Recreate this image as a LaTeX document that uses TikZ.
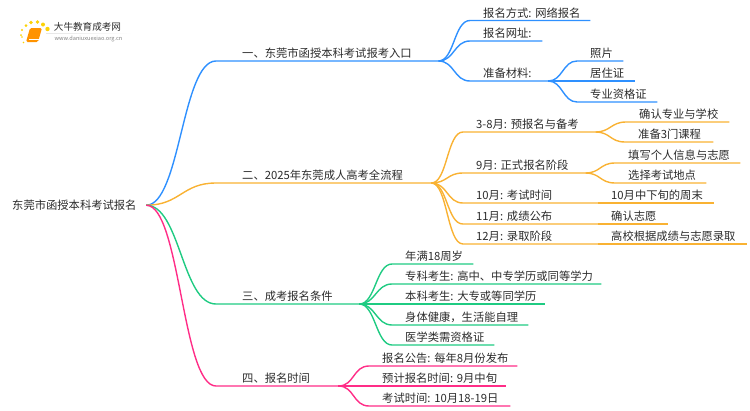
\documentclass[tikz,border=0pt]{standalone}
\usepackage{fontspec}
\setmainfont{Noto Sans CJK SC}
\definecolor{linkblue}{HTML}{2E90FF}
\definecolor{linkorange}{HTML}{F9B233}
\definecolor{linkgreen}{HTML}{1FCB82}
\definecolor{linkpink}{HTML}{FF2D87}
\definecolor{inktext}{HTML}{2B2B2B}
\tikzset{
  label/.style={anchor=south west, inner ysep=3pt, text depth=0pt, align=left, text=inktext,
    font=\fontsize{11.3}{13}\selectfont},
  stem/.style={label, inner xsep=26pt, text width=#1},
  leaf/.style={label, inner xsep=13pt, text width=#1},
  link/.style={draw, line width=1.4pt, to path={(\tikztostart.south east)
    .. controls +(#1,0) and +(-#1,0) .. (\tikztotarget.south west) -- (\tikztotarget.south east)}}
}

\begin{document}
\begin{tikzpicture}[x=1pt,y=-1pt]
      \useasboundingbox (0,0) rectangle (750,410);
      % logo
      \fill[orange!85!yellow, rounded corners=1.5pt] (30,28) -- (42,28) -- (38,42) -- (26,42) -- cycle;
      \draw[white, line width=0.5pt] (29,39.5) -- (38.5,39.5);
      \foreach \px/\py/\pr in {21/35/1, 22/30/1.2, 26/25.5/1.5, 31/22.5/1.8, 37.5/22/1.9, 43/24.5/2, 47.5/29/2.2, 22/37/.8, 23.5/42.5/.9}
        \fill[yellow!70!orange] (\px,\py) circle (\pr pt);
      \shade[left color=gray!20, right color=white] (46,33) rectangle (132,33.6);
      \node (brand) at (87.5,27) [inner sep=0pt, text=inktext, font=\fontsize{9.6}{11}\selectfont] {大牛教育成考网};
      \node (site) at (88.5,38.7) [inner sep=0pt, text=gray, font=\fontsize{5.6}{7}\selectfont] {www.daniuxuexiao.org.cn};

      \node (root) at (12,205) [label, anchor=west, inner sep=0pt] {东莞市函授本科考试报名};
      \node (hub) at (146,205) [inner sep=0pt, minimum size=0pt] {};

      \node (one) at (216,61) [stem=170pt] {一、东莞市函授本科考试报考入口};
      \node (way) at (470,20.5) [leaf=94pt] {报名方式:~网络报名};
      \node (site2) at (470,41) [leaf=46pt] {报名网址:};
      \node (stuff) at (470,81) [leaf=52pt] {准备材料:};
      \node (photo) at (577,61) [leaf=20pt] {照片};
      \node (home) at (577,81) [leaf=32pt] {居住证};
      \node (cert) at (577,102) [leaf=54pt] {专业资格证};

      \node (two) at (216,183) [stem=163pt] {二、2025年东莞成人高考全流程};
      \node (mar) at (463,132) [leaf=106pt] {3-8月:~预报名与备考};
      \node (pick) at (626,122) [leaf=77pt] {确认专业与学校};
      \node (prep) at (625,142) [leaf=62pt] {准备3门课程};
      \node (sep) at (463,173) [leaf=96pt] {9月:~正式报名阶段};
      \node (fill) at (615,163) [leaf=99pt] {填写个人信息与志愿};
      \node (place) at (615,183) [leaf=65pt] {选择考试地点};
      \node (oct) at (463,203) [leaf=109pt] {10月:~考试时间};
      \node (octa) at (598,203) [leaf=90pt] {10月中下旬的周末};
      \node (nov) at (463,224) [leaf=109pt] {11月:~成绩公布};
      \node (nova) at (598,224) [leaf=44pt] {确认志愿};
      \node (dec) at (463,244) [leaf=109pt] {12月:~录取阶段};
      \node (deca) at (598,244) [leaf=123pt] {高校根据成绩与志愿录取};

      \node (three) at (216,304) [stem=91pt] {三、成考报名条件};
      \node (age) at (392,264) [leaf=55pt] {年满18周岁};
      \node (junior) at (392,284) [leaf=183pt] {专科考生:~高中、中专学历或同等学力};
      \node (senior) at (392,304) [leaf=127pt] {本科考生:~大专或等同学历};
      \node (health) at (392,325) [leaf=110pt] {身体健康，生活能自理};
      \node (medic) at (392,345) [leaf=76pt] {医学类需资格证};

      \node (four) at (216,386) [stem=70pt] {四、报名时间};
      \node (notice) at (369,366) [leaf=122pt] {报名公告:~每年8月份发布};
      \node (plan) at (369,386) [leaf=111pt] {预计报名时间:~9月中旬};
      \node (exam) at (369,406) [leaf=115pt] {\mbox{考试时间:~10月18-19日}};

      \path (hub) edge [link=34, linkblue] (one);
      \path (one) edge [link=16, linkblue] (way);
      \path (one) edge [link=16, linkblue] (site2);
      \path (one) edge [link=16, linkblue] (stuff);
      \path (stuff) edge [link=14, linkblue] (photo);
      \path (stuff) edge [link=14, linkblue] (home);
      \path (stuff) edge [link=14, linkblue] (cert);

      \path (hub) edge [link=34, linkorange] (two);
      \path (two) edge [link=16, linkorange] (mar);
      \path (two) edge [link=16, linkorange] (sep);
      \path (two) edge [link=16, linkorange] (oct);
      \path (two) edge [link=16, linkorange] (nov);
      \path (two) edge [link=16, linkorange] (dec);
      \path (mar) edge [link=15, linkorange] (pick);
      \path (mar) edge [link=15, linkorange] (prep);
      \path (sep) edge [link=15, linkorange] (fill);
      \path (sep) edge [link=15, linkorange] (place);
      \path (oct) edge [link=0, linkorange] (octa);
      \path (nov) edge [link=0, linkorange] (nova);
      \path (dec) edge [link=0, linkorange] (deca);

      \path (hub) edge [link=34, linkgreen] (three);
      \path (three) edge [link=16, linkgreen] (age);
      \path (three) edge [link=16, linkgreen] (junior);
      \path (three) edge [link=16, linkgreen] (senior);
      \path (three) edge [link=16, linkgreen] (health);
      \path (three) edge [link=16, linkgreen] (medic);

      \path (hub) edge [link=34, linkpink] (four);
      \path (four) edge [link=16, linkpink] (notice);
      \path (four) edge [link=16, linkpink] (plan);
      \path (four) edge [link=16, linkpink] (exam);
    \end{tikzpicture}
\end{document}
